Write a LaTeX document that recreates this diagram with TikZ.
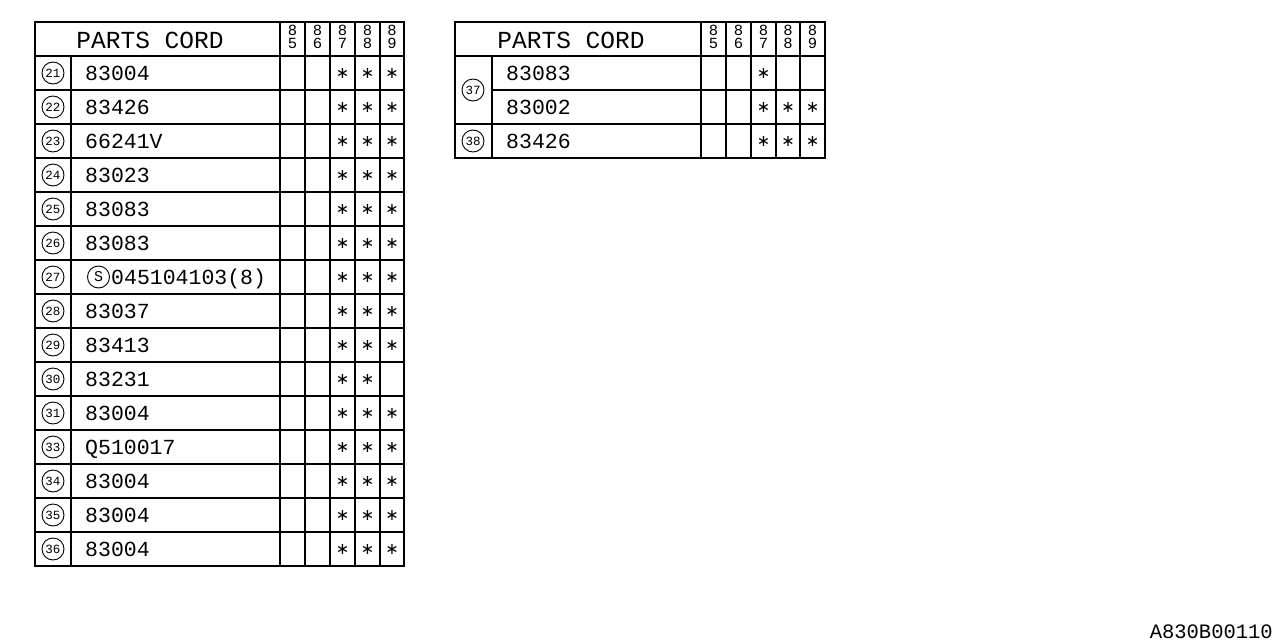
\documentclass[tikz,border=0pt]{standalone}
\usepackage{fontspec}
\setmainfont{Liberation Mono}
\newfontfamily\symf{DejaVu Sans}
\begin{document}
\begin{tikzpicture}[x=1pt,y=-1pt,
  grid/.style={line width=1.3pt},
  cnum/.style={circle,draw,line width=0.9pt,minimum size=22pt,inner sep=0pt,font=\fontsize{12.5}{12.5}\selectfont},
  code/.style={anchor=base west,inner sep=0pt,font=\fontsize{21.5}{21.5}\selectfont},
  star/.style={inner sep=0pt,font=\symf\fontsize{16}{16}\selectfont},
  yr/.style={inner sep=0pt,anchor=base,font=\fontsize{15.5}{15.5}\selectfont},
  head/.style={inner sep=0pt,anchor=base,font=\fontsize{24.5}{24.5}\selectfont}]
\useasboundingbox (0,0) rectangle (1280,640);
% ---------- left table ----------
\draw[grid] (35,22) rectangle (404,566);
\draw[grid] (71,56) -- (71,566);
\foreach \x in {280,305,330,355,380} \draw[grid] (\x,22) -- (\x,566);
\foreach \k in {0,...,14} \draw[grid] (35,56+34*\k) -- (404,56+34*\k);
\node[head] (LH) at (150,48) {PARTS CORD};
\foreach \x/\d in {292.5/5,317.5/6,342.5/7,367.5/8,392/9}{
  \node[yr] (LYa\d) at (\x,35) {8};
  \node[yr] (LYb\d) at (\x,48.5) {\d};
}
\foreach \n/\c/\a/\b/\d [count=\k from 0] in {21/83004/1/1/1,22/83426/1/1/1,23/66241V/1/1/1,24/83023/1/1/1,25/83083/1/1/1,26/83083/1/1/1,27/{}/1/1/1,28/83037/1/1/1,29/83413/1/1/1,30/83231/1/1/0,31/83004/1/1/1,33/Q510017/1/1/1,34/83004/1/1/1,35/83004/1/1/1,36/83004/1/1/1}{
  \pgfmathsetmacro\yt{56+34*\k}
  \node[cnum] (LN\n) at (53,\yt+17) {\n};
  \node[code] (LC\n) at (85,\yt+24) {\c};
  \ifnum\a=1 \node[star] (LSa\n) at (342.5,\yt+17) {∗};\fi
  \ifnum\b=1 \node[star] (LSb\n) at (367.5,\yt+17) {∗};\fi
  \ifnum\d=1 \node[star] (LSc\n) at (392,\yt+17) {∗};\fi
}
\node[circle,draw,line width=0.9pt,minimum size=22pt,inner sep=0pt,font=\fontsize{15}{15}\selectfont] (LS27) at (98.5,277) {S};
\node[code] (LC27b) at (111,284) {045104103(8)};
% ---------- right table ----------
\draw[grid] (455,22) rectangle (825,158);
\draw[grid] (492,56) -- (492,158);
\foreach \x in {701,726,751,776,800} \draw[grid] (\x,22) -- (\x,158);
\draw[grid] (455,56) -- (825,56);
\draw[grid] (492,90) -- (825,90);
\draw[grid] (455,124) -- (825,124);
\node[head] (RH) at (571,48) {PARTS CORD};
\foreach \x/\d in {713.5/5,738.5/6,763.5/7,788/8,812.5/9}{
  \node[yr] (RYa\d) at (\x,35) {8};
  \node[yr] (RYb\d) at (\x,48.5) {\d};
}
\node[cnum] (RN37) at (473,90) {37};
\node[cnum] (RN38) at (473,141) {38};
\node[code] (RC1) at (506,80) {83083};
\node[code] (RC2) at (506,114) {83002};
\node[code] (RC3) at (506,148) {83426};
\node[star] (RS1a) at (763.5,73) {∗};
\foreach \y/\r in {107/2,141/3}{
  \node[star] (RSa\r) at (763.5,\y) {∗};
  \node[star] (RSb\r) at (788,\y) {∗};
  \node[star] (RSc\r) at (812.5,\y) {∗};
}
% ---------- label ----------
\node[inner sep=0pt,anchor=base east,font=\fontsize{20.5}{20.5}\selectfont] (lbl) at (1273,638) {A830B00110};
\end{tikzpicture}
\end{document}
